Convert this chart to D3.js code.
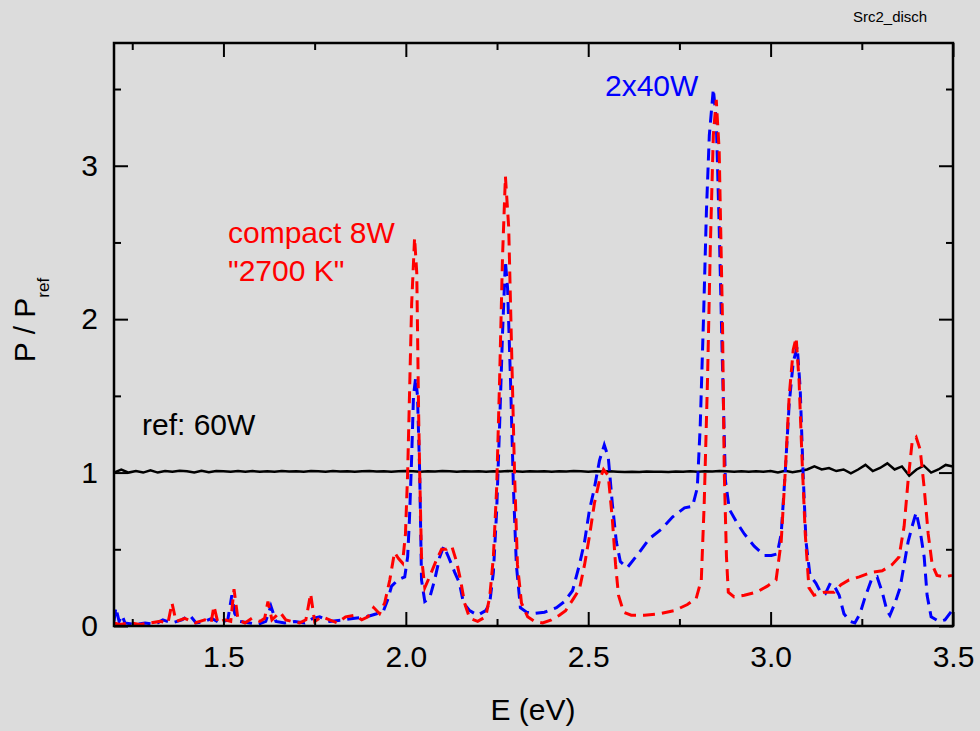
<!DOCTYPE html>
<html>
<head>
<meta charset="utf-8">
<script src="https://cdn.jsdelivr.net/npm/d3@7"></script>
<style>
body { margin: 0; background: #dcdcdc; }
text { font-family: "Liberation Sans", Arial, sans-serif; }
</style>
</head>
<body>
<div id="chart"></div>
<script>
// E (eV) and P/Pref
var refE = [1.20,1.22,1.24,1.26,1.28,1.30,1.32,1.34,1.36,1.38,1.40,1.42,1.44,1.46,1.48,1.50,1.52,1.54,1.56,1.58,
  1.60,1.62,1.64,1.66,1.68,1.70,1.72,1.74,1.76,1.78,1.80,1.82,1.84,1.86,1.88,1.90,1.92,1.94,1.96,1.98,
  2.00,2.02,2.04,2.06,2.08,2.10,2.12,2.14,2.16,2.18,2.20,2.22,2.24,2.26,2.28,2.30,2.32,2.34,2.36,2.38,
  2.40,2.42,2.44,2.46,2.48,2.50,2.52,2.54,2.56,2.58,2.60,2.62,2.64,2.66,2.68,2.70,2.72,2.74,2.76,2.78,
  2.80,2.82,2.84,2.86,2.88,2.90,2.92,2.94,2.96,2.98,3.00,3.02,3.04,3.06,3.08,3.10,3.12,3.14,3.16,3.18,
  3.20,3.22,3.24,3.26,3.28,3.30,3.32,3.34,3.36,3.38,3.40,3.42,3.44,3.46,3.48,3.50]
var refP = [1.00,1.02,1.00,1.01,1.00,1.015,1.00,1.01,1.005,1.012,1.008,1.00,1.012,1.003,1.01,1.008,1.005,1.01,1.006,1.01,
  1.005,1.009,1.006,1.01,1.007,1.009,1.006,1.01,1.008,1.006,1.01,1.007,1.009,1.006,1.008,1.01,1.007,1.009,1.006,1.008,
  1.01,1.008,1.006,1.009,1.007,1.01,1.008,1.006,1.009,1.007,1.008,1.006,1.009,1.007,1.01,1.008,1.006,1.009,1.007,1.008,
  1.006,1.009,1.007,1.01,1.008,1.006,1.009,1.007,1.008,1.006,1.003,1.006,1.004,1.007,1.005,1.006,1.004,1.007,1.005,1.008,
  1.006,1.009,1.007,1.01,1.008,1.006,1.009,1.005,1.008,1.006,1.01,1.00,1.012,1.002,1.01,1.02,1.04,1.02,1.03,1.01,
  1.02,0.995,1.02,1.05,1.01,1.03,1.06,1.02,1.04,0.98,1.02,1.045,1.00,1.02,1.05,1.04]

var compactE = [1.200,1.216,1.244,1.271,1.299,1.326,1.348,1.359,1.370,1.394,1.422,1.449,1.466,1.474,1.485,1.504,1.520,1.529,1.540,1.559,
  1.578,1.600,1.613,1.622,1.633,1.655,1.671,1.687,1.709,1.726,1.739,1.750,1.770,1.791,1.813,1.835,1.860,1.879,1.896,1.912,
  1.928,1.942,1.956,1.969,1.980,1.991,1.999,2.005,2.010,2.016,2.024,2.030,2.035,2.038,2.043,2.052,2.065,2.082,2.098,2.112,
  2.126,2.139,2.150,2.161,2.175,2.197,2.219,2.230,2.240,2.249,2.257,2.265,2.273,2.282,2.290,2.298,2.306,2.317,2.334,2.353,
  2.375,2.399,2.421,2.438,2.460,2.476,2.490,2.503,2.517,2.531,2.542,2.555,2.566,2.575,2.583,2.597,2.618,2.654,2.695,2.736,
  2.772,2.796,2.810,2.818,2.827,2.835,2.843,2.851,2.859,2.868,2.873,2.879,2.884,2.900,2.928,2.961,2.991,3.015,3.029,3.040,
  3.051,3.062,3.070,3.078,3.086,3.095,3.105,3.119,3.147,3.174,3.193,3.215,3.243,3.276,3.306,3.333,3.352,3.366,3.377,3.388,
  3.399,3.410,3.421,3.432,3.443,3.456,3.475,3.497]
var compactP = [0.02,0.01,0.02,0.01,0.02,0.03,0.02,0.15,0.03,0.05,0.02,0.04,0.02,0.13,0.02,0.04,0.03,0.24,0.04,0.02,
  0.05,0.03,0.05,0.16,0.04,0.09,0.04,0.03,0.02,0.04,0.21,0.03,0.06,0.04,0.02,0.06,0.07,0.04,0.06,0.12,
  0.08,0.15,0.30,0.48,0.44,0.41,0.60,1.00,1.50,2.10,2.53,2.30,1.40,1.00,0.45,0.25,0.32,0.42,0.50,0.50,
  0.52,0.42,0.30,0.15,0.05,0.03,0.06,0.19,0.45,0.90,1.60,2.40,2.93,2.60,1.80,1.00,0.40,0.15,0.06,0.03,
  0.02,0.04,0.07,0.10,0.18,0.24,0.40,0.58,0.80,0.95,1.02,0.98,0.70,0.40,0.20,0.09,0.07,0.07,0.08,0.10,
  0.14,0.18,0.30,0.80,1.60,2.50,3.20,3.43,3.10,2.00,1.00,0.45,0.22,0.19,0.20,0.22,0.26,0.30,0.55,1.00,
  1.50,1.80,1.88,1.60,1.10,0.60,0.25,0.20,0.22,0.22,0.27,0.30,0.32,0.35,0.36,0.40,0.45,0.65,0.95,1.20,
  1.23,1.15,0.90,0.60,0.40,0.33,0.32,0.33]

var tubeE = [1.200,1.205,1.214,1.222,1.230,1.258,1.285,1.312,1.334,1.359,1.386,1.408,1.425,1.449,1.468,1.490,1.512,1.523,1.531,1.545,
  1.572,1.594,1.616,1.630,1.644,1.668,1.696,1.723,1.745,1.764,1.791,1.827,1.860,1.893,1.920,1.939,1.950,1.961,1.978,1.997,
  2.005,2.010,2.016,2.021,2.027,2.032,2.038,2.043,2.052,2.065,2.079,2.093,2.104,2.117,2.134,2.147,2.158,2.175,2.197,2.219,
  2.230,2.240,2.249,2.257,2.265,2.273,2.279,2.287,2.295,2.303,2.314,2.331,2.347,2.380,2.413,2.435,2.457,2.476,2.490,2.503,
  2.517,2.531,2.544,2.555,2.566,2.577,2.588,2.607,2.640,2.668,2.700,2.731,2.764,2.786,2.799,2.807,2.816,2.824,2.832,2.843,
  2.851,2.859,2.868,2.876,2.887,2.906,2.928,2.955,2.983,3.002,3.018,3.029,3.040,3.051,3.062,3.073,3.081,3.089,3.097,3.108,
  3.124,3.137,3.150,3.164,3.177,3.188,3.201,3.218,3.231,3.245,3.258,3.276,3.292,3.306,3.319,3.327,3.341,3.355,3.366,3.377,
  3.388,3.399,3.410,3.421,3.429,3.440,3.462,3.478,3.497]
var tubeP = [0.03,0.12,0.03,0.07,0.02,0.01,0.02,0.01,0.04,0.02,0.04,0.07,0.02,0.03,0.05,0.02,0.04,0.20,0.08,0.03,
  0.02,0.01,0.03,0.13,0.03,0.02,0.03,0.02,0.05,0.06,0.03,0.04,0.05,0.06,0.08,0.10,0.17,0.26,0.30,0.32,
  0.45,0.70,1.10,1.50,1.62,1.50,1.00,0.30,0.16,0.18,0.30,0.45,0.52,0.45,0.35,0.28,0.15,0.10,0.07,0.10,
  0.15,0.35,0.75,1.30,1.90,2.38,2.20,1.60,0.90,0.40,0.12,0.09,0.08,0.09,0.12,0.16,0.23,0.40,0.55,0.75,
  0.90,1.08,1.18,1.10,0.80,0.55,0.42,0.38,0.48,0.57,0.63,0.71,0.77,0.78,0.90,1.30,2.00,2.70,3.20,3.50,
  3.30,2.60,1.70,0.95,0.76,0.68,0.60,0.52,0.46,0.46,0.47,0.60,1.00,1.45,1.72,1.82,1.55,1.00,0.55,0.33,
  0.28,0.22,0.21,0.28,0.25,0.20,0.08,0.03,0.02,0.08,0.18,0.30,0.32,0.22,0.10,0.07,0.15,0.25,0.40,0.55,
  0.65,0.74,0.62,0.45,0.20,0.06,0.03,0.04,0.10]

var xTicks = [1.5, 2.0, 2.5, 3.0, 3.5]
var xMinor = [1.25, 1.75, 2.25, 2.75, 3.25]
var yTicks = [0, 1, 2, 3]
var yMinor = [0.5, 1.5, 2.5, 3.5]

var W = 980, H = 731
var plotL = 114, plotR = 953, plotT = 43, plotB = 626

var svg = d3.select("#chart").append("svg").attr("width", W).attr("height", H)
svg.append("rect").attr("width", W).attr("height", H).attr("fill", "#dcdcdc")

var x = d3.scaleLinear().domain([1.2, 3.5]).range([plotL, plotR])
var y = d3.scaleLinear().domain([0, 3.8]).range([plotB, plotT])

svg.append("clipPath").attr("id", "plot").append("rect")
  .attr("x", plotL).attr("y", plotT).attr("width", plotR - plotL).attr("height", plotB - plotT)

var line = d3.line().x(function(d){ return x(d[0]) }).y(function(d){ return y(d[1]) })
var g = svg.append("g").attr("clip-path", "url(#plot)")

g.append("path").datum(refE.map(function(e, i){ return [e, refP[i]] }))
  .attr("d", line).attr("fill", "none").attr("stroke", "#000").attr("stroke-width", 2.5)
g.append("path").datum(tubeE.map(function(e, i){ return [e, tubeP[i]] }))
  .attr("d", line).attr("fill", "none").attr("stroke", "#0000ff").attr("stroke-width", 3)
  .attr("stroke-dasharray", "12,7")
g.append("path").datum(compactE.map(function(e, i){ return [e, compactP[i]] }))
  .attr("d", line).attr("fill", "none").attr("stroke", "#ff0000").attr("stroke-width", 3)
  .attr("stroke-dasharray", "12,7")

function styleAxis(sel){
  sel.select(".domain").remove()
  sel.selectAll("line").attr("stroke", "#000").attr("stroke-width", 2)
  sel.selectAll("text").attr("font-size", 30).attr("fill", "#000")
    .style("font-family", "'Liberation Sans', Arial, sans-serif")
}

svg.append("g").attr("transform", "translate(0," + plotB + ")")
  .call(d3.axisBottom(x).tickValues(xTicks).tickSize(-14).tickPadding(20).tickFormat(d3.format(".1f"))).call(styleAxis)
svg.append("g").attr("transform", "translate(0," + plotB + ")")
  .call(d3.axisBottom(x).tickValues(xMinor).tickSize(-7).tickFormat("")).call(styleAxis)
svg.append("g").attr("transform", "translate(0," + plotT + ")")
  .call(d3.axisTop(x).tickValues(xTicks).tickSize(-14).tickFormat("")).call(styleAxis)
svg.append("g").attr("transform", "translate(0," + plotT + ")")
  .call(d3.axisTop(x).tickValues(xMinor).tickSize(-7).tickFormat("")).call(styleAxis)
svg.append("g").attr("transform", "translate(" + plotL + ",0)")
  .call(d3.axisLeft(y).tickValues(yTicks).tickSize(-14).tickPadding(16).tickFormat(d3.format("d"))).call(styleAxis)
svg.append("g").attr("transform", "translate(" + plotL + ",0)")
  .call(d3.axisLeft(y).tickValues(yMinor).tickSize(-7).tickFormat("")).call(styleAxis)
svg.append("g").attr("transform", "translate(" + plotR + ",0)")
  .call(d3.axisRight(y).tickValues(yTicks).tickSize(-14).tickFormat("")).call(styleAxis)
svg.append("g").attr("transform", "translate(" + plotR + ",0)")
  .call(d3.axisRight(y).tickValues(yMinor).tickSize(-7).tickFormat("")).call(styleAxis)

svg.append("rect").attr("x", plotL).attr("y", plotT).attr("width", plotR - plotL).attr("height", plotB - plotT)
  .attr("fill", "none").attr("stroke", "#000").attr("stroke-width", 2.5)

svg.append("text").attr("x", 533).attr("y", 720).attr("text-anchor", "middle")
  .attr("font-size", 30).text("E (eV)")

var yt = svg.append("text").attr("transform", "translate(35,320) rotate(-90)")
  .attr("text-anchor", "middle").attr("font-size", 30)
yt.append("tspan").text("P / P")
yt.append("tspan").attr("font-size", 17).attr("dy", 14).text("ref")

svg.append("text").attr("x", 853).attr("y", 22).attr("font-size", 15).text("Src2_disch")
svg.append("text").attr("x", 228).attr("y", 243).attr("font-size", 30).attr("fill", "#ff0000").text("compact 8W")
svg.append("text").attr("x", 228).attr("y", 281).attr("font-size", 30).attr("fill", "#ff0000").text("\"2700 K\"")
svg.append("text").attr("x", 142).attr("y", 435).attr("font-size", 30).attr("fill", "#000").text("ref: 60W")
svg.append("text").attr("x", 605).attr("y", 96).attr("font-size", 30).attr("fill", "#0000ff").text("2x40W")
</script>
</body>
</html>
